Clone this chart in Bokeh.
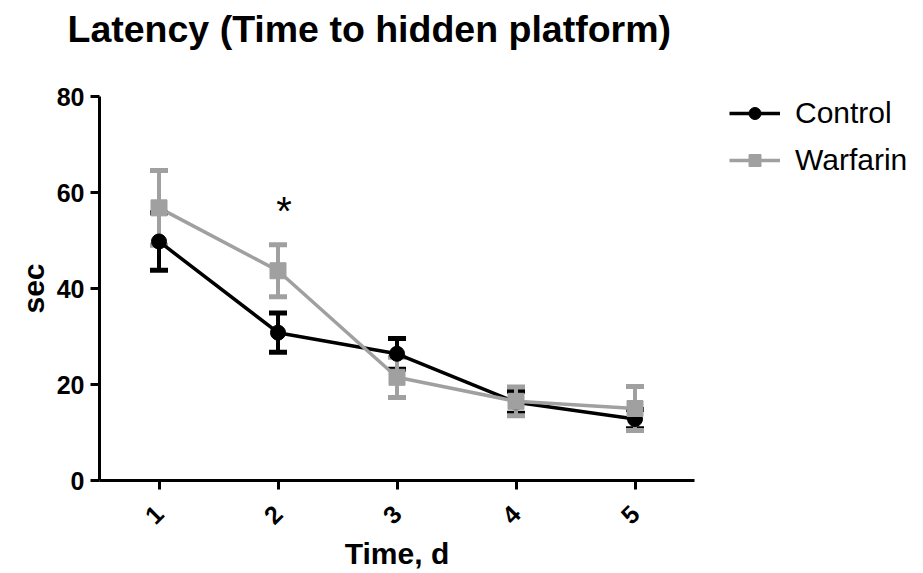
import math
from bokeh.plotting import figure
from bokeh.layouts import column, row
from bokeh.models import (ColumnDataSource, Whisker, TeeHead, Legend, LegendItem,
                          FixedTicker, Range1d)
from bokeh.core.properties import value
from bokeh.embed import file_html
from bokeh.resources import INLINE

days = [1, 2, 3, 4, 5]
control_mean = [49.8, 30.8, 26.4, 16.3, 12.8]
control_err = [6.0, 4.1, 3.2, 2.3, 2.0]
warfarin_mean = [56.8, 43.7, 21.5, 16.5, 15.0]
warfarin_err = [7.8, 5.4, 4.2, 3.0, 4.6]
y_ticks = [0, 20, 40, 60, 80]
title_text = "Latency (Time to hidden platform)"
x_label = "Time, d"
y_label = "sec"
series_names = ["Control", "Warfarin"]
sig_day = [2]
sig_y = [57]

FONT = "Liberation Sans"
BLACK = "#000000"
GRAY = "#a0a0a0"

def blank_fig(w, h, left=0, top=0):
    f = figure(width=w, height=h, output_backend="svg", toolbar_location=None,
               x_axis_location=None, y_axis_location=None,
               x_range=Range1d(0, w - left), y_range=Range1d(0, h - top),
               min_border=0, min_border_left=left, min_border_right=0,
               min_border_top=top, min_border_bottom=0)
    f.title = None
    f.grid.visible = False
    f.outline_line_color = None
    f.background_fill_color = "white"
    f.border_fill_color = "white"
    return f

# ---- title strip ----
TITLE_H = 55
tf = blank_fig(923, TITLE_H)
tf.text(x=[67], y=[TITLE_H - 28], text=[title_text], text_font=value(FONT),
        text_font_size="37.5px", text_font_style="bold", text_color=BLACK,
        text_align="left", text_baseline="alphabetic")

# ---- main plot ----
MAIN_W = 700
MAIN_H = 573 - TITLE_H
p = figure(width=MAIN_W, height=MAIN_H, output_backend="svg",
           toolbar_location=None,
           x_range=Range1d(0.5, 5.5), y_range=Range1d(0, 80),
           min_border_left=99, min_border_right=MAIN_W - 694,
           min_border_top=88 - TITLE_H - 9, min_border_bottom=92)
p.title = None
p.outline_line_color = None
p.xgrid.visible = False
p.ygrid.visible = False
p.background_fill_color = "white"
p.border_fill_color = "white"

for ax in (p.xaxis[0], p.yaxis[0]):
    ax.axis_line_width = 3
    ax.major_tick_line_width = 3
    ax.major_tick_out = 9
    ax.major_tick_in = 0
    ax.minor_tick_line_color = None
    ax.major_label_text_font = FONT
    ax.major_label_text_font_style = "bold"
    ax.major_label_text_font_size = "25px"
    ax.major_label_text_color = BLACK
    ax.axis_label_text_font = FONT
    ax.axis_label_text_font_style = "bold"
    ax.axis_label_text_font_size = "30px"
    ax.axis_label_text_color = BLACK

p.xaxis[0].ticker = FixedTicker(ticks=days)
p.xaxis[0].major_label_orientation = math.pi / 4
p.xaxis[0].major_label_standoff = 20
p.xaxis[0].axis_label = x_label
p.xaxis[0].axis_label_standoff = 2

p.yaxis[0].ticker = FixedTicker(ticks=y_ticks)
p.yaxis[0].major_label_standoff = 6
p.yaxis[0].axis_label = y_label
p.yaxis[0].axis_label_standoff = 4

cs = ColumnDataSource(dict(x=days, y=control_mean,
                           lo=[m - e for m, e in zip(control_mean, control_err)],
                           hi=[m + e for m, e in zip(control_mean, control_err)]))
ws = ColumnDataSource(dict(x=days, y=warfarin_mean,
                           lo=[m - e for m, e in zip(warfarin_mean, warfarin_err)],
                           hi=[m + e for m, e in zip(warfarin_mean, warfarin_err)]))

def add_whisker(src, color):
    w = Whisker(source=src, base="x", lower="lo", upper="hi",
                line_color=color, line_width=4,
                upper_head=TeeHead(size=18, line_color=color, line_width=5),
                lower_head=TeeHead(size=18, line_color=color, line_width=5))
    p.add_layout(w)

add_whisker(cs, BLACK)
p.line("x", "y", source=cs, line_color=BLACK, line_width=3.5)
p.scatter("x", "y", source=cs, marker="circle", size=15,
          fill_color=BLACK, line_color=BLACK)

add_whisker(ws, GRAY)
p.line("x", "y", source=ws, line_color=GRAY, line_width=3.5)
p.scatter("x", "y", source=ws, marker="square", size=16,
          fill_color=GRAY, line_color=GRAY)

p.text(x=sig_day, y=sig_y, text=["*"], text_font=value(FONT),
       text_font_size="40px", text_align="center", text_baseline="middle",
       x_offset=6, y_offset=4, text_color=BLACK)

# ---- legend strip (hidden proxy renderers share the series' styles) ----
LEG_W = 923 - MAIN_W
lf = blank_fig(LEG_W, MAIN_H, left=729 - MAIN_W, top=96 - TITLE_H)
l1 = lf.line("x", "y", source=cs, line_color=BLACK, line_width=3.5, visible=False)
m1 = lf.scatter("x", "y", source=cs, marker="circle", size=15, fill_color=BLACK,
                line_color=BLACK, visible=False)
l2 = lf.line("x", "y", source=ws, line_color=GRAY, line_width=3.5, visible=False)
m2 = lf.scatter("x", "y", source=ws, marker="square", size=16, fill_color=GRAY,
                line_color=GRAY, visible=False)
legend = Legend(items=[LegendItem(label=series_names[0], renderers=[l1, m1]),
                       LegendItem(label=series_names[1], renderers=[l2, m2])],
                location="top_left", orientation="vertical",
                label_text_font=FONT, label_text_font_size="30px",
                label_text_color=BLACK, glyph_width=51, glyph_height=30,
                label_height=30, label_standoff=15, spacing=13, padding=0,
                margin=0, border_line_color=None, background_fill_alpha=0,
                click_policy="none")
lf.add_layout(legend)

layout = column(tf, row(p, lf, spacing=0), spacing=0)
open("out.html", "w").write(file_html(layout, INLINE))
